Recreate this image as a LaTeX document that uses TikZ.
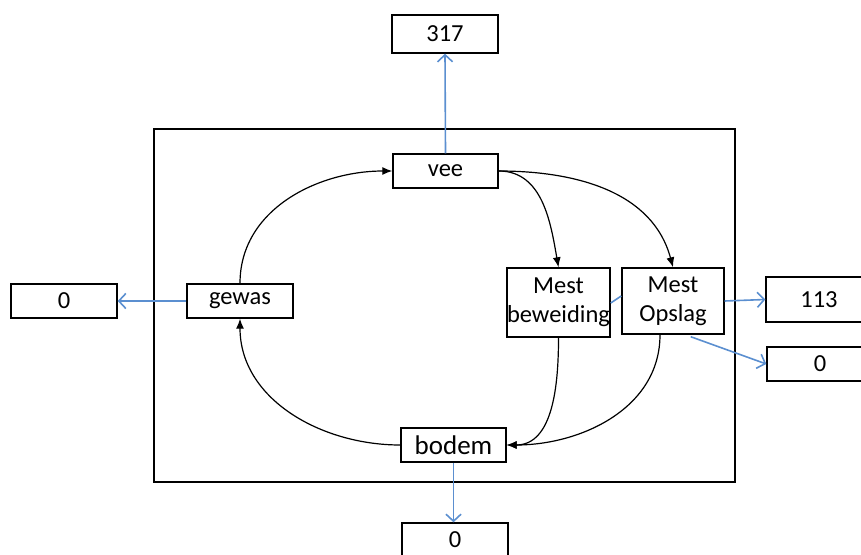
\documentclass[tikz,border=0pt]{standalone}
\usepackage{fontspec}
\setmainfont{Carlito}
\usepackage{xcolor}
\usetikzlibrary{arrows.meta}
\definecolor{flowblue}{RGB}{91,143,208}

\begin{document}
\begin{tikzpicture}[x=1pt, y=-1pt]
	% Define styles
	\tikzset{
		block/.style={rectangle, draw, line width=1.4pt, fill=white, minimum width=106pt, minimum height=34pt, inner sep=0pt, align=center, font=\fontsize{24.5}{29}\selectfont},
		line/.style={draw, line width=1.2pt, -{Latex[length=10pt, width=8pt]}},
		outflow/.style={draw, flowblue, line width=1.6pt, -{Straight Barb[length=7pt, width=15pt, line width=1.6pt]}}
	}
	\clip (0,0) rectangle (861,554);
	
	% Frame
	\draw[line width=1.4pt] (154,129) rectangle (735,482);
	
	% Nodes
	\node[block, minimum height=38pt] (n317) at (445,34) {317};
	\node[block, minimum width=105pt] (vee) at (445.5,171) {vee};
	\node[block] (gewas) at (240,301) {gewas};
	\node[block] (nul1) at (64,301) {0};
	\node[block, minimum width=103pt, minimum height=69pt] (bew) at (558.5,302.5) {Mest\\beweiding};
	\node[block, minimum width=102pt, minimum height=66pt] (opslag) at (673,301) {Mest\\Opslag};
	\node[block, minimum height=45pt] (n113) at (819,299.5) {113};
	\node[block] (nul2) at (820,364) {0};
	\node[block, minimum width=105pt, font=\fontsize{27}{30}\selectfont] (bodem) at (453.5,445) {bodem};
	\node[block] (nul3) at (455,540) {0};
	
	% Arrows
	\path [line] (gewas.north) to[out=90, in=180] (vee.west);
	\path [line] (bodem.west) to[out=180, in=-90] (gewas.south);
	\path [line] (vee.east) to[out=0, in=100] (bew.north);
	\path [line] (vee.east) to[out=0, in=105] (opslag.north);
	\path [line] (bew.south) to[out=-90, in=0] (bodem.east);
	\path [line] (opslag.south -| 660,0) to[out=-90, in=0] (bodem.east);
	
	\path [outflow] (vee.north) -- (n317.south);
	\path [outflow] (gewas.west) -- (nul1.east);
	\path [outflow] (opslag.east) -- (n113.west);
	\path [outflow] (opslag.south east) ++(-34,2) -- (nul2.west);
	\path [outflow] (bodem.south) -- (bodem.south |- nul3.north);
	\draw [flowblue, line width=1.6pt] (bew.east) ++(0,0.5) -- ([yshift=5pt]opslag.west);
\end{tikzpicture}
\end{document}
